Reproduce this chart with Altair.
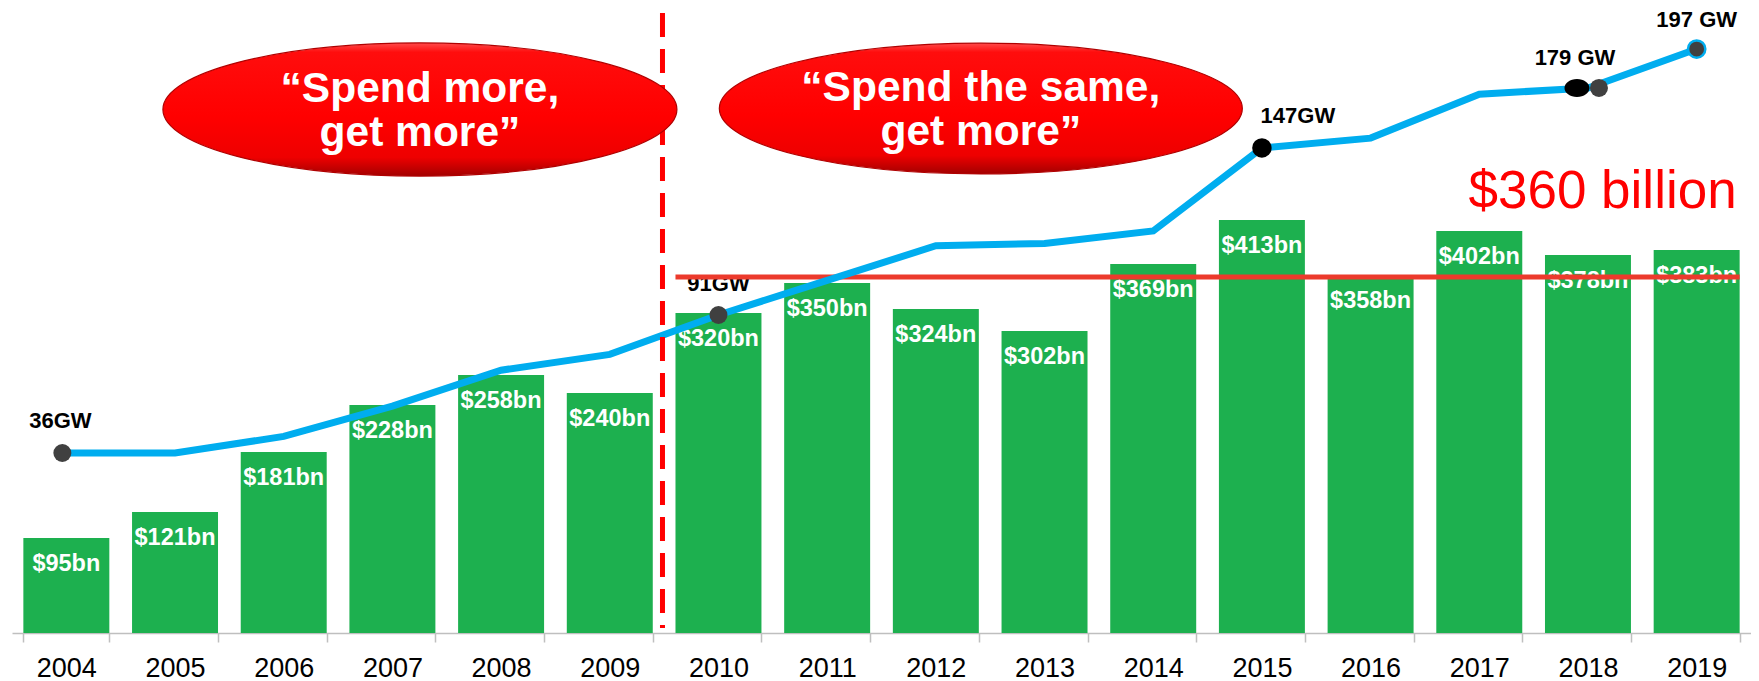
import altair as alt
import pandas as pd

# ---------------- data ----------------
years = [str(y) for y in range(2004, 2020)]
invest_bn = [95, 121, 181, 228, 258, 240, 320, 350, 324, 302, 369, 413, 358, 402, 378, 383]
invest_labels = ["$95bn", "$121bn", "$181bn", "$228bn", "$258bn", "$240bn", "$320bn", "$350bn",
                 "$324bn", "$302bn", "$369bn", "$413bn", "$358bn", "$402bn", "$378bn", "$383bn"]
capacity_gw = [36, 36, 42.6, 54.7, 69, 75.3, 91, 104.8, 118.6, 119.5, 124.5, 157.6, 161.5, 179, 181.5, 197]

gw_label_years = ["2004", "2010", "2015", "2018", "2019"]
gw_label_texts = ["36GW", "91GW", "147GW", "179 GW", "197 GW"]

benchmark_bn = [356]
benchmark_text = ["$360 billion"]
quotes = ["\u201cSpend more,\nget more\u201d", "\u201cSpend the same,\nget more\u201d"]

# ---------------- styling ----------------
FONT = "Liberation Sans, Arial, Helvetica, sans-serif"
W, H = 1739, 625
GREEN = "#1DB04F"
BLUE = "#00ADEF"
DOT = "#404040"


def ellipse(ry):
    return f"M -1 0 A 1 {ry} 0 1 1 1 0 A 1 {ry} 0 1 1 -1 0 Z"


df = pd.DataFrame({"year": years, "bn": invest_bn, "bn_label": invest_labels, "gw": capacity_gw})
gw_map = dict(zip(years, capacity_gw))
ann = pd.DataFrame({"year": gw_label_years, "label": gw_label_texts,
                    "gw": [gw_map[y] for y in gw_label_years]})

xscale = alt.Scale(domain=years, paddingInner=0.209, paddingOuter=0.1045)
ybn = alt.Scale(domain=[0, 625], nice=False, zero=False)
ygw = alt.Scale(domain=[-35.74, 213.36], nice=False, zero=False)

X = alt.X("year:N", scale=xscale, title=None,
          axis=alt.Axis(labelFont=FONT, labelFontSize=27, labelColor="#000000", labelPadding=13,
                        labelAngle=0, tickSize=9, tickBand="extent", tickColor="#BFBFBF",
                        domainColor="#BFBFBF", domainWidth=1.5, tickWidth=1.5, grid=False,
                        title=None))
Xn = alt.X("year:N", title=None)


def xd(band, bp):
    return alt.XDatum(band, type="nominal", bandPosition=bp, title=None)


base = alt.Chart(df)

bars = base.mark_bar(color=GREEN).encode(x=X, y=alt.Y("bn:Q", scale=ybn, axis=None))

bar_text = base.mark_text(color="white", font=FONT, fontWeight="bold", fontSize=23.5,
                          baseline="alphabetic", dy=33).encode(
    x=Xn, y=alt.Y("bn:Q", scale=ybn, axis=None), text="bn_label:N")

# GW labels
label_dx = {"2004": -6, "2010": 0, "2015": 36, "2018": -13, "2019": 0}
label_dy = {"2004": -25, "2010": -24, "2015": -25, "2018": -23, "2019": -22}
gw_labels = []
for yr in gw_label_years:
    gw_labels.append(
        alt.Chart(ann).transform_filter(alt.datum.year == yr).mark_text(
            color="#000000", font=FONT, fontWeight="bold", fontSize=22, baseline="alphabetic",
            dx=label_dx[yr], dy=label_dy[yr]).encode(
            x=Xn, y=alt.Y("gw:Q", scale=ygw, axis=None), text="label:N"))

# benchmark rule
bench_df = pd.DataFrame({"v": benchmark_bn, "t": benchmark_text})
hline = alt.Chart(bench_df).mark_rule(color="#EC3A2C", strokeWidth=5).encode(
    x=xd("2010", 0),
    x2=alt.X2Datum("2019", bandPosition=1),
    y=alt.Y("v:Q", scale=ybn, axis=None))

bench_text = alt.Chart(bench_df).mark_text(color="#FF0000", font=FONT, fontSize=53, align="right",
                                           baseline="alphabetic", dx=-3).encode(
    x=xd("2019", 1),
    y=alt.YDatum(425, scale=ybn, axis=None),
    text="t:N")

# capacity line
line = base.mark_line(color=BLUE, strokeWidth=7).encode(
    x=Xn, y=alt.Y("gw:Q", scale=ygw, axis=None))

dot_specs = [
    ("2004", dict(shape="circle", color=DOT, size=324, xOffset=-4)),
    ("2010", dict(shape="circle", color=DOT, size=324)),
    ("2015", dict(shape="circle", color="#000000", size=380)),
    ("2018", dict(shape=ellipse(0.72), color="#000000", size=625, xOffset=-11)),
    ("2018", dict(shape="circle", color=DOT, size=324, xOffset=11)),
    ("2019", dict(shape="circle", fill=DOT, stroke=BLUE, strokeWidth=2.5, size=300)),
]
dots = []
for yr, st in dot_specs:
    dots.append(
        alt.Chart(ann).transform_filter(alt.datum.year == yr).mark_point(
            filled=True, opacity=1, **st).encode(
            x=Xn, y=alt.Y("gw:Q", scale=ygw, axis=None)))

# dashed separator (between the 2009 and 2010 bars)
sep = alt.Chart(bench_df).mark_rule(color="#FF0000", strokeWidth=5, strokeDash=[24, 12],
                                    xOffset=-13).encode(
    x=xd("2010", 0),
    y=alt.YDatum(620, scale=ybn, axis=None),
    y2=alt.Y2Datum(5))

# red ellipses with quotes
grad = alt.LinearGradient(
    gradient="linear", x1=0, x2=0, y1=0, y2=1,
    stops=[alt.GradientStop(color="#ff4a4a", offset=0),
           alt.GradientStop(color="#ff0d0d", offset=0.07),
           alt.GradientStop(color="#ff0000", offset=0.55),
           alt.GradientStop(color="#ee0000", offset=0.86),
           alt.GradientStop(color="#a30000", offset=1)])

qdf = pd.DataFrame({"q": quotes})
ell_specs = [
    # idx, band, bandPosition, xOffset, y centre, y text, width, ry
    (0, "2007", 0.82, 0, 523.5, 531.5, 514, 0.259),
    (1, "2012", 1.0, 2, 524.5, 532, 523, 0.25),
]
ellipses = []
for i, band, bp, xo, yc, ytxt, wd, ry in ell_specs:
    sub = alt.Chart(qdf).transform_filter(alt.datum.q == quotes[i])
    ellipses.append(sub.mark_point(shape=ellipse(ry), size=wd * wd, filled=True, fill=grad,
                                   stroke="#b00000", strokeWidth=1.2, opacity=1, xOffset=xo).encode(
        x=xd(band, bp),
        y=alt.YDatum(yc, scale=ybn, axis=None)))
    ellipses.append(sub.mark_text(color="white", font=FONT, fontWeight="bold", fontSize=42.5,
                                  lineBreak="\n", lineHeight=44, align="center",
                                  baseline="alphabetic", dx=xo).encode(
        x=xd(band, bp),
        y=alt.YDatum(ytxt, scale=ybn, axis=None),
        text="q:N"))

chart = alt.layer(
    bars, bar_text, *gw_labels, hline, line, *dots, sep, *ellipses, bench_text
).resolve_scale(y="independent").properties(
    width=W, height=H, padding={"left": 4, "top": 0, "right": 0, "bottom": 0}
).configure(background="white").configure_view(stroke=None)

chart.save("out.html", embed_options={"renderer": "svg", "actions": False})
